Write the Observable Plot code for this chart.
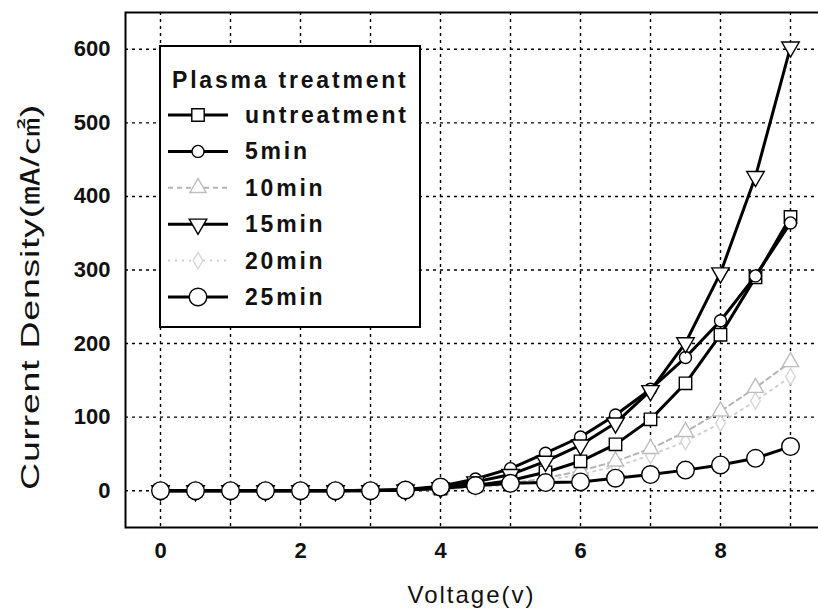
<!DOCTYPE html>
<html>
<head>
<meta charset="utf-8">
<script src="https://cdn.jsdelivr.net/npm/d3@7"></script>
<script src="https://cdn.jsdelivr.net/npm/@observablehq/plot@0.6"></script>
<style>
  html, body { margin: 0; padding: 0; background: #fff; }
  #wrap { position: relative; width: 818px; height: 612px; }
  #legend { position: absolute; left: 159px; top: 45px; }
</style>
</head>
<body>
<div id="wrap"><div id="chart"></div><div id="legend"></div></div>
<script>
const voltage = [0, 0.5, 1, 1.5, 2, 2.5, 3, 3.5, 4, 4.5, 5, 5.5, 6, 6.5, 7, 7.5, 8, 8.5, 9];
const untreatment = [0, 0, 0, 0, 0, 0, 0.5, 1, 3, 7, 14, 25, 40, 63, 97, 146, 212, 290, 372];
const min5  = [0, 0, 0, 0, 0, 0, 0.5, 1.5, 6, 16, 30, 51, 73, 103, 138, 181, 231, 292, 364];
const min10 = [0, 0, 0, 0, 0, 0, 0, 0.5, 2, 5, 10, 17, 27, 40, 57, 80, 108, 140, 175];
const min15 = [0, 0, 0, 0, 0, 0, 0, 1, 4, 12, 22, 40, 62, 92, 136, 201, 296, 427, 603];
const min20 = [0, 0, 0, 0, 0, 0, 0, 0.5, 2, 4, 8, 14, 22, 33, 48, 67, 92, 122, 155];
const min25 = [0, 0, 0, 0, 0, 0, 0, 1, 5, 7, 10, 11, 12, 17, 22, 28, 35, 44, 60];
const seriesNames = ["untreatment", "5min", "10min", "15min", "20min", "25min"];
const xTicks = [0, 2, 4, 6, 8];
const yTicks = [0, 100, 200, 300, 400, 500, 600];
const xTitle = "Voltage(v)";
const yTitle = "Current Density(\u3383/\u33A0)";
const legendTitle = "Plasma treatment";

const triangleDown = {
  draw(context, size) {
    const a = Math.sqrt(4 * size / Math.sqrt(3));
    const h = Math.sqrt(3) / 2 * a;
    context.moveTo(-a / 2, -h / 3);
    context.lineTo(a / 2, -h / 3);
    context.lineTo(0, 2 * h / 3);
    context.closePath();
  }
};

const styles = [
  {values: untreatment, symbol: "square", r: 7, line: "black", width: 3, dash: null, mark: "black"},
  {values: min5, symbol: "circle", r: 6, line: "black", width: 3, dash: null, mark: "black"},
  {values: min10, symbol: "triangle", r: 6, line: "#b4b4b4", width: 2, dash: "5,4", mark: "#bdbdbd"},
  {values: min15, symbol: triangleDown, r: 6.5, line: "black", width: 3, dash: null, mark: "black"},
  {values: min20, symbol: "diamond", r: 5, line: "#d0d0d0", width: 2, dash: "2,5", mark: "#d6d6d6"},
  {values: min25, symbol: "circle", r: 8.8, line: "black", width: 3, dash: null, mark: "black"}
];

const marks = [
  Plot.gridX({ticks: d3.range(0, 10), stroke: "black", strokeOpacity: 1, strokeWidth: 1.4, strokeDasharray: "3,4"}),
  Plot.gridY({ticks: yTicks, stroke: "black", strokeOpacity: 1, strokeWidth: 1.4, strokeDasharray: "3,4"})
];
const order = [4, 2, 0, 1, 3, 5];
for (const i of order) {
  const s = styles[i];
  const rows = voltage.map((v, k) => ({v, j: s.values[k]}));
  marks.push(Plot.line(rows, {x: "v", y: "j", stroke: s.line, strokeWidth: s.width, strokeDasharray: s.dash}));
  marks.push(Plot.dot(rows, {x: "v", y: "j", symbol: s.symbol, r: s.r, fill: "white", stroke: s.mark, strokeWidth: 1.4}));
}
marks.push(
  Plot.axisX({ticks: xTicks, tickSize: 0, tickPadding: 15, label: null, fontSize: 22, fontWeight: "bold"}),
  Plot.axisY({ticks: yTicks, tickSize: 0, tickPadding: 15, label: null, fontSize: 22, fontWeight: "bold"}),
  Plot.text([xTitle], {frameAnchor: "bottom", lineAnchor: "bottom", dx: -4, dy: 75, fontSize: 24, fontWeight: "normal", fill: "#111"}),
  Plot.text([yTitle], {frameAnchor: "left", textAnchor: "middle", rotate: -90, dx: -95, dy: 27, fontSize: 25, fontWeight: "normal", fill: "#111"}),
  Plot.frame({stroke: "black", strokeWidth: 2})
);

const chart = Plot.plot({
  width: 818,
  height: 612,
  marginLeft: 125,
  marginRight: -7,
  marginTop: 12,
  marginBottom: 85,
  x: {domain: [-0.5, 9.5]},
  y: {domain: [-50, 650]},
  style: {fontFamily: "'Liberation Sans', Arial, 'Noto Sans CJK SC', sans-serif", background: "white", color: "#111"},
  marks
});
document.getElementById("chart").appendChild(chart);

// Title spacing / stretch to match the scanned reference
const textGroups = chart.querySelectorAll('g[aria-label="text"]');
if (textGroups.length >= 2) {
  const xt = textGroups[0].querySelector("text");
  xt.setAttribute("letter-spacing", "2");
  const yt = textGroups[1].querySelector("text");
  yt.setAttribute("letter-spacing", "0.5");
  const tr = yt.getAttribute("transform");
  if (tr) yt.setAttribute("transform", tr + " scale(1.5,1)");
}

// Legend
const lw = 262, lh = 283;
const svg = d3.select("#legend").append("svg").attr("width", lw).attr("height", lh)
  .style("font-family", "'Liberation Sans', Arial, sans-serif");
svg.append("rect").attr("x", 1).attr("y", 1).attr("width", lw - 2).attr("height", lh - 2)
  .attr("fill", "white").attr("stroke", "black").attr("stroke-width", 2);
svg.append("text").attr("x", 13).attr("y", 43).text(legendTitle)
  .attr("font-size", 23).attr("font-weight", "bold").attr("letter-spacing", 2.8).attr("fill", "#111");
seriesNames.forEach((name, i) => {
  const s = styles[i];
  const cy = 70 + i * 36.4;
  const g = svg.append("g");
  g.append("line").attr("x1", 9).attr("x2", 69).attr("y1", cy).attr("y2", cy)
    .attr("stroke", s.line).attr("stroke-width", s.width).attr("stroke-dasharray", s.dash);
  const type = s.symbol === "square" ? d3.symbolSquare : s.symbol === "circle" ? d3.symbolCircle
    : s.symbol === "triangle" ? d3.symbolTriangle : s.symbol === "diamond" ? d3.symbolDiamond : s.symbol;
  g.append("path").attr("d", d3.symbol(type, s.r * s.r * Math.PI)())
    .attr("transform", `translate(39,${cy})`).attr("fill", "white").attr("stroke", s.mark).attr("stroke-width", 1.4);
  g.append("text").attr("x", 86).attr("y", cy + 8).text(name)
    .attr("font-size", 23).attr("font-weight", "bold").attr("letter-spacing", 2.8).attr("fill", "#111");
});
</script>
</body>
</html>
